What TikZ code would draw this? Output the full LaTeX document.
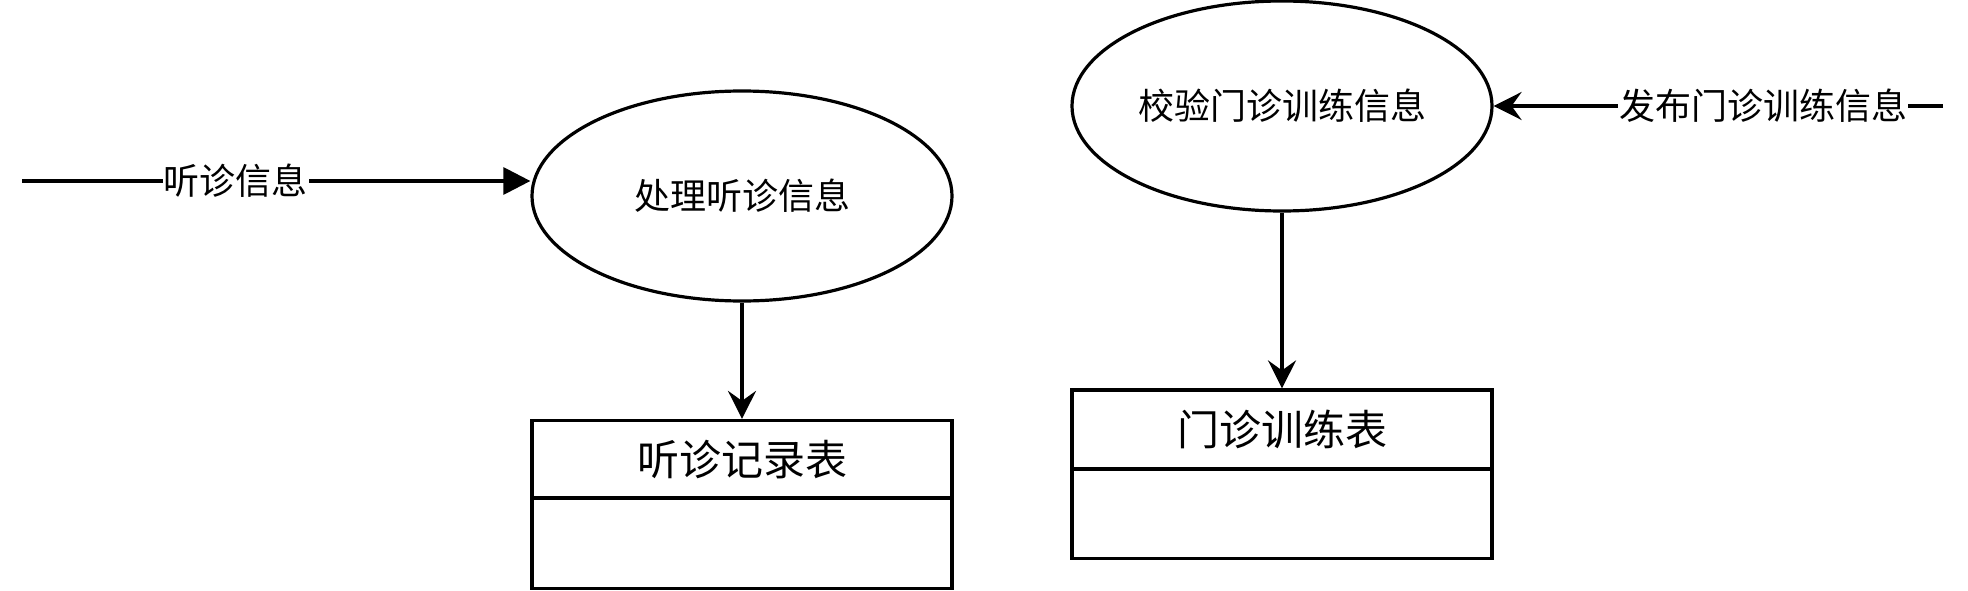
\documentclass[tikz,border=0pt]{standalone}
\usepackage{fontspec}
\newfontfamily\cjk{Noto Sans CJK SC}
\usetikzlibrary{shapes.geometric,arrows.meta}
\tikzset{
  proc/.style={draw, ellipse, line width=3.2pt, minimum width=420pt, minimum height=210pt, inner sep=0pt,
    font=\cjk\fontsize{36}{40}\selectfont},
  tabhead/.style={draw, rectangle, line width=3.2pt, minimum width=420pt, inner sep=0pt,
    font=\cjk\fontsize{42}{46}\selectfont},
  tabbody/.style={draw, rectangle, line width=3.2pt, minimum width=420pt, inner sep=0pt},
  flow/.style={line width=3.2pt},
  flowlabel/.style={fill=white, inner sep=1pt, font=\cjk\fontsize{36}{40}\selectfont},
  blockarrow/.style={-{Triangle[length=27pt,width=27pt]}},
  notcharrow/.style={-{Stealth[length=28pt,width=28pt,inset=10pt]}}
}
\begin{document}
\begin{tikzpicture}[x=1pt,y=-1pt]
\useasboundingbox (0,0) rectangle (1968,591);
% processes
\node[proc] (L) at (742,196) {处理听诊信息};
\node[proc] (R) at (1282,106) {校验门诊训练信息};
% tables
\node[tabhead, minimum height=78pt] (T1) at (742,459.5) {听诊记录表};
\node[tabbody, minimum height=90.5pt] (B1) at (742,543.3) {};
\node[tabhead, minimum height=79pt] (T2) at (1282,429.5) {门诊训练表};
\node[tabbody, minimum height=89.5pt] (B2) at (1282,513.8) {};
% free ends
\coordinate (lin) at (22,181);
\coordinate (rin) at (1943,106);
% connectors
\draw[flow, blockarrow] (lin) -- node[flowlabel, pos=0.42] {听诊信息} (lin -| L.west);
\draw[flow, notcharrow] (rin) -- node[flowlabel, pos=0.4] {发布门诊训练信息} (R.east);
\draw[flow, notcharrow] (L.south) -- (T1.north);
\draw[flow, notcharrow] (R.south) -- (T2.north);
\end{tikzpicture}
\end{document}
